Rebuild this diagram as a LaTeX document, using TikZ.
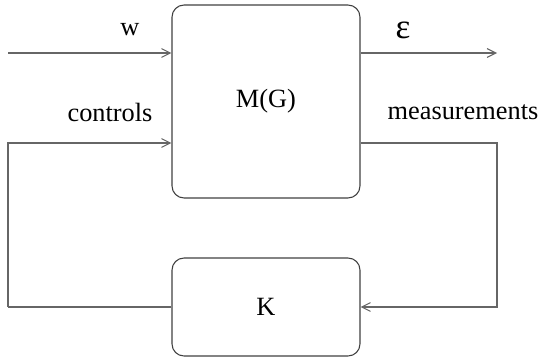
\documentclass[tikz,border=0pt]{standalone}
\usepackage{fontspec}
\setmainfont{Liberation Serif}
\usetikzlibrary{arrows.meta,positioning,calc}

\begin{document}
\begin{tikzpicture}[
    x=0.02cm, y=-0.02cm,
    block/.style={rectangle, rounded corners=0.24cm, draw=black!75, line width=0.6pt, minimum width=3.76cm, align=center, font=\fontsize{15}{18}\selectfont},
    arrow/.style={-{Straight Barb[length=5pt,width=5pt,line width=0.6pt]}, draw=black!60, line width=0.6pt},
    line/.style={draw=black!60, line width=0.6pt},
    lbl/.style={font=\fontsize{15}{18}\selectfont}
]
\useasboundingbox (0,0) rectangle (544,358);

\node[block, minimum height=3.86cm] (plant) at (266,101.5) {M(G)};
\node[block, minimum height=1.96cm] (ctrl) at (266,307) {K};

% inputs and outputs of M(G)
\coordinate (win) at (8,53);
\coordinate (eout) at (497,53);
\coordinate (uleft) at (8,143);
\coordinate (yright) at (497,143);

\draw[arrow] (win) -- (win -| plant.west);
\draw[arrow] (plant.east |- eout) -- (eout);
\draw[arrow] (uleft |- ctrl.west) -- (uleft) -- (uleft -| plant.west);
\draw[line] (ctrl.west) -- (uleft |- ctrl.west);
\draw[arrow] (plant.east |- yright) -- (yright) -- (yright |- ctrl.east) -- (ctrl.east);

\node[lbl] (wlbl) at (130,30) {w};
\node[lbl, font=\fontsize{20}{22}\selectfont] (elbl) at (403,30) {ε};
\node[lbl] (clbl) at (110,112) {controls};
\node[lbl] (mlbl) at (463,112) {measurements};
\end{tikzpicture}
\end{document}
